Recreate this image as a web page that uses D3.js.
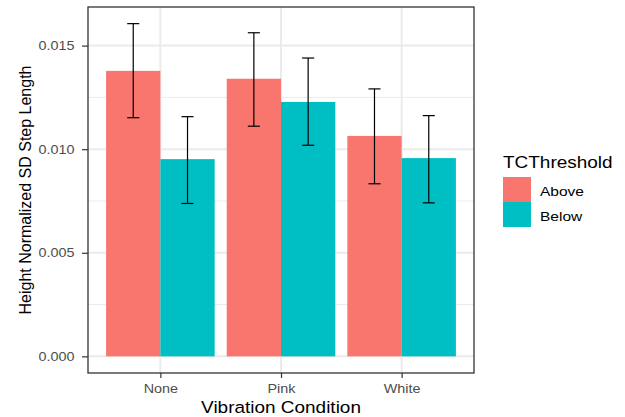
<!DOCTYPE html>
<meta charset="utf-8">
<style>
  body { margin: 0; background: #fff; }
  text { font-family: "Liberation Sans", Arial, sans-serif; }
</style>
<body>
<script src="https://cdn.jsdelivr.net/npm/d3@7"></script>
<script>
// data
var conditions = ["None", "Pink", "White"];
var groups = ["Above", "Below"];
var groupColors = ["#F8766D", "#00BFC4"];
var meanAbove = [0.01378, 0.01340, 0.01064];
var meanBelow = [0.00952, 0.01228, 0.00957];
var lowAbove  = [0.01152, 0.01111, 0.00833];
var highAbove = [0.01606, 0.01562, 0.01291];
var lowBelow  = [0.00738, 0.01019, 0.00741];
var highBelow = [0.01157, 0.01440, 0.01162];
var yTicks = [0, 0.005, 0.010, 0.015];
var yMinor = [0.0025, 0.0075, 0.0125];

var rows = [];
conditions.forEach(function(c, i) {
  rows.push({cond: c, grp: "Above", mean: meanAbove[i], lo: lowAbove[i], hi: highAbove[i]});
  rows.push({cond: c, grp: "Below", mean: meanBelow[i], lo: lowBelow[i], hi: highBelow[i]});
});

var W = 625, H = 417;
var panel = {left: 88, top: 7, right: 474, bottom: 373};
// the reference text looks a bit wider than the font, stretch it
var sx = 1.15;

var svg = d3.select("body").append("svg")
    .attr("width", W)
    .attr("height", H);

// discrete x: positions 1..3, expanded by 0.6 each side
var x = d3.scaleLinear().domain([0.4, 3.6]).range([panel.left, panel.right]);
var yMax = 0.01606;
var y = d3.scaleLinear().domain([-yMax * 0.05, yMax * 1.05]).range([panel.bottom, panel.top]);
var color = d3.scaleOrdinal().domain(groups).range(groupColors);

var grid = svg.append("g");
grid.selectAll(".minor").data(yMinor).enter().append("line")
    .attr("x1", panel.left).attr("x2", panel.right)
    .attr("y1", d => y(d)).attr("y2", d => y(d))
    .attr("stroke", "#EBEBEB").attr("stroke-width", 1);
grid.selectAll(".major").data(yTicks).enter().append("line")
    .attr("x1", panel.left).attr("x2", panel.right)
    .attr("y1", d => y(d)).attr("y2", d => y(d))
    .attr("stroke", "#EBEBEB").attr("stroke-width", 2);
grid.selectAll(".vmajor").data(conditions).enter().append("line")
    .attr("x1", (d, i) => x(i + 1)).attr("x2", (d, i) => x(i + 1))
    .attr("y1", panel.top).attr("y2", panel.bottom)
    .attr("stroke", "#EBEBEB").attr("stroke-width", 2);

// bars, dodged, total width 0.9
var barW = 0.45;
function xPos(d) {
  var i = conditions.indexOf(d.cond);
  var g = groups.indexOf(d.grp);
  return i + 1 - barW + g * barW;
}
svg.append("g").selectAll("rect").data(rows).enter().append("rect")
    .attr("x", d => x(xPos(d)))
    .attr("width", d => x(xPos(d) + barW) - x(xPos(d)))
    .attr("y", d => y(d.mean))
    .attr("height", d => y(0) - y(d.mean))
    .attr("fill", d => color(d.grp));

// error bars
var capW = 0.1;
var eb = svg.append("g").attr("stroke", "#000").attr("stroke-width", 1.2).attr("fill", "none");
rows.forEach(function(d) {
  var cx = xPos(d) + barW / 2;
  eb.append("line").attr("x1", x(cx)).attr("x2", x(cx)).attr("y1", y(d.lo)).attr("y2", y(d.hi));
  eb.append("line").attr("x1", x(cx - capW / 2)).attr("x2", x(cx + capW / 2)).attr("y1", y(d.lo)).attr("y2", y(d.lo));
  eb.append("line").attr("x1", x(cx - capW / 2)).attr("x2", x(cx + capW / 2)).attr("y1", y(d.hi)).attr("y2", y(d.hi));
});

// panel border
svg.append("rect")
    .attr("x", panel.left).attr("y", panel.top)
    .attr("width", panel.right - panel.left).attr("height", panel.bottom - panel.top)
    .attr("fill", "none").attr("stroke", "#333333").attr("stroke-width", 1.3);

// axes
var yAxis = svg.append("g")
    .attr("transform", "translate(" + panel.left + ",0)")
    .call(d3.axisLeft(y).tickValues(yTicks).tickFormat(d3.format(".3f")).tickSize(6).tickPadding(7.5));
var xAxis = svg.append("g")
    .attr("transform", "translate(0," + panel.bottom + ")")
    .call(d3.axisBottom(x).tickValues([1, 2, 3]).tickFormat((d, i) => conditions[i]).tickSize(5).tickPadding(6.5));
[xAxis, yAxis].forEach(function(a) {
  a.select(".domain").remove();
  a.selectAll(".tick line").attr("stroke", "#333333").attr("stroke-width", 1.2);
  a.selectAll(".tick text").attr("fill", "#4D4D4D").style("font-size", "12.5px")
    .style("font-family", "'Liberation Sans', Arial, sans-serif");
});
yAxis.selectAll(".tick text").each(function() {
  var t = d3.select(this);
  t.attr("x", +t.attr("x") / sx).attr("transform", "scale(" + sx + ",1)");
});
xAxis.selectAll(".tick text").attr("transform", "scale(" + sx + ",1)");

function stretched(px, py) {
  return "translate(" + px + "," + py + ") scale(" + sx + ",1)";
}

// axis titles
svg.append("text")
    .attr("transform", stretched((panel.left + panel.right) / 2, 413))
    .attr("text-anchor", "middle")
    .style("font-size", "16.5px").attr("fill", "#000")
    .text("Vibration Condition");
svg.append("text")
    .attr("transform", "translate(31," + (panel.top + panel.bottom) / 2 + ") rotate(-90)")
    .attr("text-anchor", "middle")
    .style("font-size", "16px").attr("fill", "#000")
    .text("Height Normalized SD Step Length");

// legend
var lg = svg.append("g").attr("transform", "translate(503,0)");
lg.append("text").attr("transform", stretched(0, 168))
    .style("font-size", "16.5px").attr("fill", "#000").text("TCThreshold");
groups.forEach(function(g, i) {
  lg.append("rect").attr("x", 0).attr("y", 177 + i * 25)
      .attr("width", 28).attr("height", 25).attr("fill", color(g));
  lg.append("text").attr("transform", stretched(37, 177 + i * 25 + 19))
      .style("font-size", "13.5px").attr("fill", "#000").text(g);
});
</script>
</body>
